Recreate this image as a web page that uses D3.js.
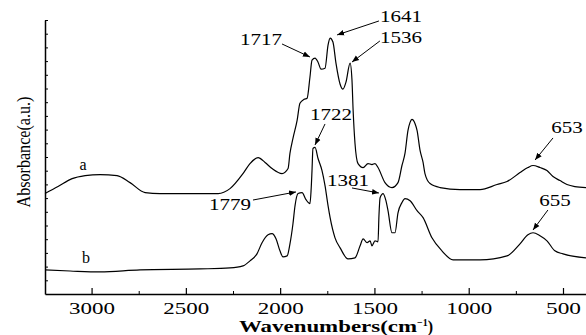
<!DOCTYPE html>
<html>
<head>
<meta charset="utf-8">
<script src="https://cdn.jsdelivr.net/npm/d3@7"></script>
<style>
  body { margin: 0; background: #fff; }
  svg { display: block; font-family: "Liberation Serif", "Times New Roman", Times, serif; }
</style>
</head>
<body>
<div id="app"></div>
<script>
"use strict";

// wavenumbers (cm-1) and absorbance (a.u.)
const waveA = [3247, 3178, 3103, 3034, 2955, 2865, 2796, 2716, 2637, 2425, 2329, 2266, 2197, 2160, 2117,
  2080, 2043, 1990, 1958, 1948, 1932, 1910, 1895, 1873, 1857, 1842, 1831, 1815, 1799, 1783, 1762,
  1746, 1735, 1720, 1704, 1682, 1667, 1651, 1629, 1619, 1613, 1603, 1587, 1560, 1534, 1513, 1497,
  1481, 1444, 1407, 1375, 1354, 1338, 1322, 1311, 1301, 1285, 1274, 1258, 1242, 1232, 1205, 1152,
  1046, 940, 850, 797, 728, 686, 659, 622, 585, 553, 516, 479, 437, 378];
const absA = [7.33, 7.84, 8.42, 8.64, 8.72, 8.64, 8.13, 7.40, 7.33, 7.33, 7.33, 7.69, 8.79, 9.52, 9.96,
  9.60, 9.16, 8.79, 9.16, 10.26, 11.36, 12.67, 13.92, 14.21, 14.29, 15.82, 17.07, 17.22, 16.92, 16.41, 16.48,
  18.17, 18.68, 18.39, 16.85, 15.31, 14.95, 15.46, 16.85, 15.60, 13.41, 10.99, 9.52, 9.23, 9.52, 9.45, 9.52,
  9.23, 8.13, 7.77, 8.13, 9.38, 10.26, 11.94, 12.53, 12.75, 12.45, 11.94, 10.48, 9.60, 8.79, 8.06, 7.77,
  7.62, 7.62, 7.99, 8.21, 8.86, 9.23, 9.38, 9.23, 9.01, 8.57, 8.28, 7.99, 7.84, 7.77];

const waveB = [3247, 3114, 2955, 2743, 2425, 2266, 2197, 2160, 2123, 2096, 2064, 2043, 2022, 2001, 1985,
  1963, 1948, 1932, 1921, 1905, 1884, 1863, 1842, 1836, 1831, 1826, 1815, 1799, 1778, 1762, 1746,
  1735, 1709, 1682, 1640, 1603, 1576, 1560, 1539, 1523, 1513, 1497, 1481, 1476, 1470, 1454, 1439,
  1428, 1407, 1391, 1375, 1354, 1338, 1311, 1274, 1242, 1195, 1142, 1083, 940, 797, 728, 686,
  659, 622, 585, 543, 500, 378];
const absB = [1.76, 1.68, 1.61, 1.76, 1.83, 1.90, 2.05, 2.42, 2.93, 3.74, 4.32, 4.40, 4.03, 3.15, 2.71,
  2.78, 3.66, 5.13, 6.45, 7.33, 7.40, 6.89, 6.59, 7.55, 9.01, 10.62, 10.70, 9.89, 9.01, 7.91, 6.45,
  5.57, 4.10, 3.37, 2.56, 2.64, 3.52, 4.03, 3.74, 3.88, 3.52, 3.88, 3.81, 5.71, 7.03, 7.33, 6.81,
  6.08, 4.47, 4.47, 5.93, 6.67, 6.96, 6.81, 6.08, 5.57, 4.10, 3.15, 2.49, 2.49, 2.78, 3.66, 4.32,
  4.47, 4.25, 3.88, 3.15, 2.93, 2.64];

// peak annotations: label position and arrow tip, in data units
const peakLabels = ["1717", "1641", "1536", "1722", "1779", "1381", "653", "655"];
const labelWave = [2102, 1359, 1359, 1730, 2266, 1640, 479, 542];
const labelAbs = [18.18, 19.85, 18.32, 12.70, 6.13, 7.88, 11.75, 6.42];
const arrowFromWave = [1990, 1476, 1471, 1762, 2144, 1619, 553, 580];
const arrowFromAbs = [18.25, 19.93, 18.47, 12.41, 6.86, 7.74, 11.39, 6.13];
const arrowToWave = [1842, 1698, 1619, 1815, 1916, 1476, 648, 659];
const arrowToAbs = [17.30, 18.91, 16.93, 10.88, 7.45, 7.37, 9.78, 4.67];

const seriesNames = ["a", "b"];
const seriesNameWave = [3045, 3030];
const seriesNameAbs = [9.05, 2.26];

const majorTicks = [3000, 2500, 2000, 1500, 1000, 500];
const minorTicks = [2750, 2250, 1750, 1250, 750];
const yTicks = d3.range(1, 21);

const width = 586, height = 335;
const margin = { top: 20, right: 0, bottom: 41, left: 45 };
const serif = "'Liberation Serif', 'Times New Roman', serif";

const svg = d3.select("#app").append("svg")
    .attr("width", width)
    .attr("height", height);

const x = d3.scaleLinear()
    .domain([3247, 378])
    .range([margin.left, width - margin.right]);
const y = d3.scaleLinear()
    .domain([0, 20])
    .range([height - margin.bottom, margin.top]);

// arrow head
svg.append("defs").append("marker")
    .attr("id", "head")
    .attr("viewBox", "0 0 10 10")
    .attr("refX", 10).attr("refY", 5)
    .attr("markerWidth", 7).attr("markerHeight", 7)
    .attr("markerUnits", "userSpaceOnUse")
    .attr("orient", "auto")
    .append("path")
    .attr("d", "M0,1 L10,5 L0,9 Z")
    .attr("fill", "#000");

// x axis, major ticks with labels
const xAxis = svg.append("g")
    .attr("transform", `translate(0,${y(0)})`)
    .call(d3.axisBottom(x)
        .tickValues(majorTicks)
        .tickSizeInner(-6)
        .tickSizeOuter(0)
        .tickPadding(9)
        .tickFormat(d3.format("d")));
xAxis.attr("font-family", serif);
xAxis.select(".domain").attr("stroke-width", 1.5);
xAxis.selectAll(".tick line").attr("stroke-width", 1.2);
xAxis.selectAll(".tick text")
    .attr("font-size", 16)
    .attr("fill", "#000")
    .attr("textLength", 46)
    .attr("lengthAdjust", "spacingAndGlyphs");
xAxis.selectAll(".tick text").filter(d => d < 1000).attr("textLength", 35);

// minor ticks
svg.append("g")
    .attr("transform", `translate(0,${y(0)})`)
    .call(d3.axisBottom(x)
        .tickValues(minorTicks)
        .tickSizeInner(-3)
        .tickSizeOuter(0)
        .tickFormat(""))
    .call(g => g.select(".domain").remove());

// y axis, no labels
const yAxis = svg.append("g")
    .attr("transform", `translate(${margin.left},0)`)
    .call(d3.axisLeft(y)
        .tickValues(yTicks)
        .tickSizeInner(-3)
        .tickSizeOuter(0)
        .tickFormat(""));
yAxis.select(".domain").attr("stroke-width", 1.5);

// axis titles
const xTitle = svg.append("text")
    .attr("x", 336)
    .attr("y", 332)
    .attr("text-anchor", "middle")
    .attr("font-size", 16)
    .attr("font-weight", "bold");
xTitle.append("tspan")
    .attr("textLength", 178)
    .attr("lengthAdjust", "spacingAndGlyphs")
    .text("Wavenumbers(cm");
xTitle.append("tspan").attr("dy", -6).attr("font-size", 10).text("\u22121");
xTitle.append("tspan").attr("dy", 6).text(")");

svg.append("text")
    .attr("transform", `translate(30,${152}) rotate(-90)`)
    .attr("text-anchor", "middle")
    .attr("font-size", 18)
    .attr("textLength", 111)
    .attr("lengthAdjust", "spacingAndGlyphs")
    .text("Absorbance(a.u.)");

// spectra
const line = d3.line()
    .x(d => x(d[0]))
    .y(d => y(d[1]))
    .curve(d3.curveMonotoneX);

const series = [d3.zip(waveA, absA), d3.zip(waveB, absB)];
svg.append("g")
    .selectAll("path")
    .data(series)
    .join("path")
    .attr("d", line)
    .attr("fill", "none")
    .attr("stroke", "#000")
    .attr("stroke-width", 1.2);

// series names
svg.append("g")
    .selectAll("text")
    .data(seriesNames)
    .join("text")
    .attr("x", (d, i) => x(seriesNameWave[i]))
    .attr("y", (d, i) => y(seriesNameAbs[i]))
    .attr("text-anchor", "middle")
    .attr("font-size", 16)
    .text(d => d);

// peak labels and arrows
const notes = svg.append("g");
notes.selectAll("line")
    .data(peakLabels)
    .join("line")
    .attr("x1", (d, i) => x(arrowFromWave[i]))
    .attr("y1", (d, i) => y(arrowFromAbs[i]))
    .attr("x2", (d, i) => x(arrowToWave[i]))
    .attr("y2", (d, i) => y(arrowToAbs[i]))
    .attr("stroke", "#000")
    .attr("stroke-width", 1)
    .attr("marker-end", "url(#head)");
notes.selectAll("text")
    .data(peakLabels)
    .join("text")
    .attr("x", (d, i) => x(labelWave[i]))
    .attr("y", (d, i) => y(labelAbs[i]))
    .attr("text-anchor", "middle")
    .attr("font-size", 16)
    .attr("textLength", d => d.length * 10.5)
    .attr("lengthAdjust", "spacingAndGlyphs")
    .text(d => d);
</script>
</body>
</html>
